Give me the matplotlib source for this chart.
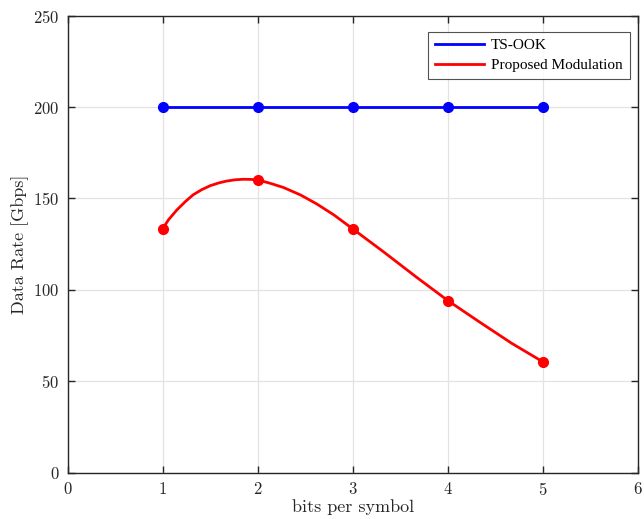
import matplotlib
matplotlib.use("Agg")
import matplotlib.pyplot as plt

# Data
bits = [1, 2, 3, 4, 5]
ts_ook = [200, 200, 200, 200, 200]
proposed = [133.3, 160.0, 133.3, 94.1, 60.6]

# Smooth red trace
curve_x = [1.0, 1.03, 1.06, 1.15, 1.24, 1.32, 1.41, 1.50, 1.59, 1.67, 1.76, 1.85,
           1.94, 2.0, 2.06, 2.13, 2.27, 2.45, 2.62, 2.80, 3.0, 3.32, 3.67, 4.0,
           4.33, 4.67, 5.0]
curve_y = [133.3, 135.9, 138.3, 143.8, 148.4, 152.0, 154.8, 157.0, 158.5, 159.5,
           160.2, 160.5, 160.4, 160.0, 159.3, 158.3, 156.0, 151.9, 147.0, 141.0,
           133.3, 120.9, 106.9, 94.1, 82.5, 70.8, 60.6]

xticks = [0, 1, 2, 3, 4, 5, 6]
yticks = [0, 50, 100, 150, 200, 250]

plt.rcParams['font.family'] = ['cmr10']
plt.rcParams['axes.formatter.use_mathtext'] = True
plt.rcParams['mathtext.fontset'] = 'cm'

fig = plt.figure(figsize=(6.44, 5.19), dpi=100)
ax = fig.add_axes([0.105, 0.089, 0.886, 0.881])

blue = '#0000ff'
red = '#ff0000'
ax.plot(bits, ts_ook, color=blue, lw=2.0, label='TS-OOK', zorder=3)
ax.plot(bits, ts_ook, 'o', color=blue, ms=7, zorder=4)
ax.plot(curve_x, curve_y, color=red, lw=2.0, label='Proposed Modulation', zorder=3,
        solid_joinstyle='round')
ax.plot(bits, proposed, 'o', color=red, ms=7, zorder=4)

ax.set_xlim(0, 6)
ax.set_ylim(0, 250)
ax.set_xticks(xticks)
ax.set_yticks(yticks)
ax.grid(True, color='#e3e3e3', lw=0.9)
ax.set_axisbelow(True)
for s in ax.spines.values():
    s.set_color('#262626')
    s.set_linewidth(1.0)
ax.tick_params(direction='in', top=True, right=True, length=5, width=1.0,
               color='#262626', labelsize=12, labelcolor='#262626', pad=6)

ax.set_xlabel('bits per symbol', fontsize=13, labelpad=1, color='#262626')
ax.set_ylabel('Data Rate [Gbps]', fontsize=13, labelpad=3, color='#262626')

leg = ax.legend(loc='upper right', bbox_to_anchor=(0.985, 0.965),
                prop={'family': 'Liberation Serif', 'size': 11},
                frameon=True, fancybox=False, handlelength=3.2,
                handletextpad=0.45, borderpad=0.45, labelspacing=0.4,
                borderaxespad=0.0)
leg.get_frame().set_edgecolor('#262626')
leg.get_frame().set_linewidth(0.8)

fig.savefig('out.png', dpi=100)
